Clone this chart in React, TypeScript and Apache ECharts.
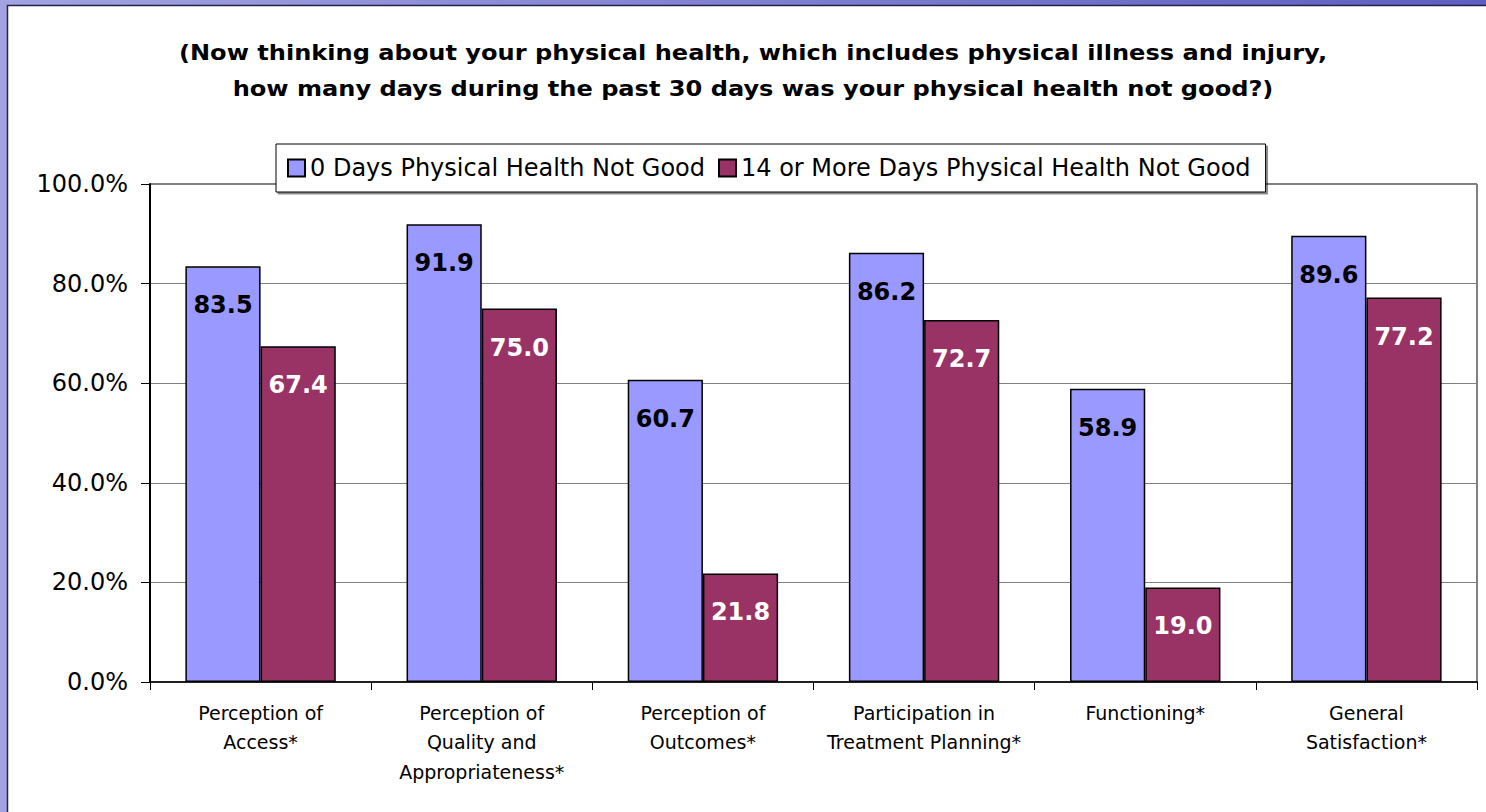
import React, { useEffect, useRef } from "react";
import * as echarts from "echarts";

const categories = [
  "Perception of\nAccess*",
  "Perception of\nQuality and\nAppropriateness*",
  "Perception of\nOutcomes*",
  "Participation in\nTreatment Planning*",
  "Functioning*",
  "General\nSatisfaction*",
];
const seriesNames = ["0 Days Physical Health Not Good", "14 or More Days Physical Health Not Good"];
const zeroDays = [83.5, 91.9, 60.7, 86.2, 58.9, 89.6];
const fourteenPlus = [67.4, 75.0, 21.8, 72.7, 19.0, 77.2];
const titleLines = [
  "(Now thinking about your physical health, which includes physical illness and injury,",
  "how many days during the past 30 days was your physical health not good?)",
];

const W = 1486;
const H = 812;

export default function App() {
  const ref = useRef<HTMLDivElement>(null);
  useEffect(() => {
    if (!ref.current) return;
    const chart = echarts.init(ref.current, null, { renderer: "svg" });
    const font = "DejaVu Sans";
    chart.setOption({
      animation: false,
      backgroundColor: "#fff",
      textStyle: { fontFamily: font },
      graphic: [
        {
          type: "rect",
          z: -10,
          silent: true,
          shape: { x: 0, y: 0, width: W, height: H },
          style: {
            fill: new echarts.graphic.LinearGradient(0, 0, 1, 0, [
              { offset: 0, color: "#a3a3e2" },
              { offset: 1, color: "#5e5ec0" },
            ]),
          },
        },
        {
          type: "rect",
          z: -9,
          silent: true,
          shape: { x: 7.5, y: 5.5, width: W, height: H },
          style: { fill: "#ffffff", stroke: "#22224a", lineWidth: 1.5 },
        },
        ...titleLines.map((t, i) => ({
          type: "text",
          x: 753,
          y: 52 + i * 36,
          scaleX: 1.095,
          silent: true,
          style: {
            text: t,
            fontFamily: font,
            fontWeight: "bold",
            fontSize: 22,
            fill: "#000",
            textAlign: "center",
            textVerticalAlign: "middle",
          },
        })),
      ],
      legend: {
        data: seriesNames,
        left: 276,
        top: 144,
        padding: [12, 15, 12, 11],
        itemGap: 13,
        itemWidth: 17,
        itemHeight: 17,
        backgroundColor: "#fff",
        borderColor: "#000",
        borderWidth: 1,
        shadowColor: "rgba(0,0,0,0.45)",
        shadowOffsetX: 2,
        shadowOffsetY: 2,
        shadowBlur: 0,
        icon: "rect",
        itemStyle: { borderColor: "#000", borderWidth: 2 },
        textStyle: { fontFamily: font, fontSize: 24, color: "#000" },
        z: 10,
      },
      grid: {
        left: 150,
        right: 9,
        top: 184,
        bottom: 130,
        show: true,
        borderColor: "#000",
        borderWidth: 1,
        backgroundColor: "transparent",
      },
      xAxis: {
        type: "category",
        data: categories,
        axisLine: { lineStyle: { color: "#000", width: 1.5 } },
        axisTick: { show: true, length: 8, lineStyle: { color: "#000" } },
        axisLabel: {
          fontFamily: font,
          fontSize: 19,
          lineHeight: 29.5,
          color: "#000",
          margin: 16,
          interval: 0,
        },
      },
      yAxis: {
        type: "value",
        min: 0,
        max: 100,
        interval: 20,
        axisLine: { show: true, lineStyle: { color: "#000", width: 2 } },
        axisTick: { show: true, length: 9, lineStyle: { color: "#000" } },
        splitLine: { lineStyle: { color: "#808080", width: 1 } },
        axisLabel: {
          fontFamily: font,
          fontSize: 24,
          color: "#000",
          margin: 22,
          formatter: (v: number) => v.toFixed(1) + "%",
        },
      },
      series: [
        {
          name: seriesNames[0],
          type: "bar",
          data: zeroDays,
          barGap: "0%",
          barCategoryGap: "32%",
          itemStyle: { color: "#9999ff", borderColor: "#000", borderWidth: 1.5 },
          label: {
            show: true,
            position: "insideTop",
            distance: 27,
            fontFamily: font,
            fontSize: 24,
            fontWeight: "bold",
            color: "#000",
            formatter: (p: any) => p.value.toFixed(1),
          },
        },
        {
          name: seriesNames[1],
          type: "bar",
          data: fourteenPlus,
          barGap: "0%",
          barCategoryGap: "32%",
          itemStyle: { color: "#993366", borderColor: "#000", borderWidth: 1.5 },
          label: {
            show: true,
            position: "insideTop",
            distance: 27,
            fontFamily: font,
            fontSize: 24,
            fontWeight: "bold",
            color: "#fff",
            formatter: (p: any) => p.value.toFixed(1),
          },
        },
      ],
    });
    return () => chart.dispose();
  }, []);
  return (
    <div
      ref={ref}
      style={{ position: "absolute", left: 0, top: 0, width: W, height: H }}
    />
  );
}
